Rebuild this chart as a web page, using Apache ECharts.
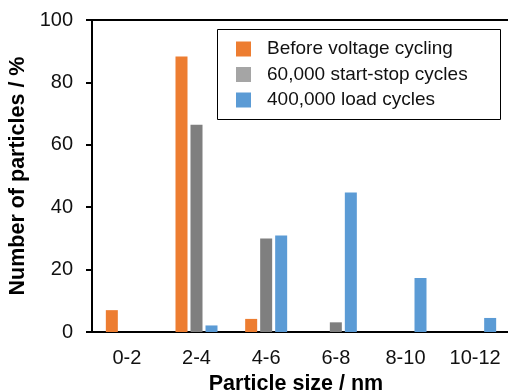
<!DOCTYPE html>
<html>
<head>
<meta charset="utf-8">
<script src="https://cdn.jsdelivr.net/npm/echarts@6/dist/echarts.min.js"></script>
<style>
  html, body { margin: 0; padding: 0; background: #fff; }
  #chart { width: 508px; height: 392px; }
</style>
</head>
<body>
<div id="chart"></div>
<script>
// 粒径分布
const categories = ['0-2', '2-4', '4-6', '6-8', '8-10', '10-12'];
const seriesNames = ['Before voltage cycling', '60,000 start-stop cycles', '400,000 load cycles'];
const beforeCycling = [7.0, 88.3, 4.2, 0, 0, 0];
const startStop = [0, 66.4, 30.0, 3.1, 0, 0];
const loadCycles = [0, 2.1, 30.9, 44.7, 17.3, 4.5];
const yTicks = [0, 20, 40, 60, 80, 100];

const barColors = ['#ED7D31', '#7F7F7F', '#5B9BD5'];
const legendColors = ['#ED7D31', '#A5A5A5', '#5B9BD5'];
const font = 'Liberation Sans, Arial, sans-serif';

const chart = echarts.init(document.getElementById('chart'));

const dataSets = [beforeCycling, startStop, loadCycles];

chart.setOption({
  animation: false,
  grid: { left: 92, top: 20, width: 418, height: 312, outerBoundsMode: 'none', containLabel: false },
  legend: {
    orient: 'vertical',
    left: 236,
    top: 39.5,
    padding: 0,
    itemWidth: 15,
    itemHeight: 15,
    itemGap: 6.5,
    icon: 'rect',
    textStyle: { fontFamily: font, fontSize: 19, color: '#111', padding: [0, 0, 0, 11], lineHeight: 19 },
    data: seriesNames.map((n, i) => ({ name: n, itemStyle: { color: legendColors[i] } }))
  },
  graphic: [{
    type: 'rect',
    shape: { x: 217.5, y: 29.5, width: 283, height: 90 },
    style: { fill: 'none', stroke: '#000', lineWidth: 1 },
    z: 10
  }],
  xAxis: [{
    type: 'category',
    data: categories,
    name: 'Particle size / nm',
    nameLocation: 'middle',
    nameGap: 41,
    nameTextStyle: { fontFamily: font, fontSize: 21.5, fontWeight: 'bold', color: '#000', padding: [0, 10, 0, 0] },
    axisLine: { lineStyle: { color: '#000', width: 2 } },
    axisTick: { length: 6, lineStyle: { color: '#000', width: 2 } },
    axisLabel: { fontFamily: font, fontSize: 20, color: '#111', margin: 16 },
    splitLine: { show: false }
  }, {
    type: 'category',
    data: categories,
    position: 'top',
    axisLine: { lineStyle: { color: '#000', width: 2 } },
    axisTick: { show: false },
    axisLabel: { show: false }
  }],
  yAxis: {
    type: 'value',
    min: yTicks[0],
    max: yTicks[yTicks.length - 1],
    interval: 20,
    name: 'Number of particles / %',
    nameLocation: 'middle',
    nameGap: 59,
    nameTextStyle: { fontFamily: font, fontSize: 21.5, fontWeight: 'bold', color: '#000' },
    axisLine: { show: true, lineStyle: { color: '#000', width: 2 } },
    axisTick: { show: true, length: 6, lineStyle: { color: '#000', width: 2 } },
    axisLabel: { fontFamily: font, fontSize: 20, color: '#111', margin: 19 },
    splitLine: { show: false }
  },
  series: seriesNames.map((n, i) => ({
    name: n,
    type: 'bar',
    data: dataSets[i],
    barWidth: 12,
    barGap: '25%',
    itemStyle: { color: barColors[i] }
  }))
});
</script>
</body>
</html>
